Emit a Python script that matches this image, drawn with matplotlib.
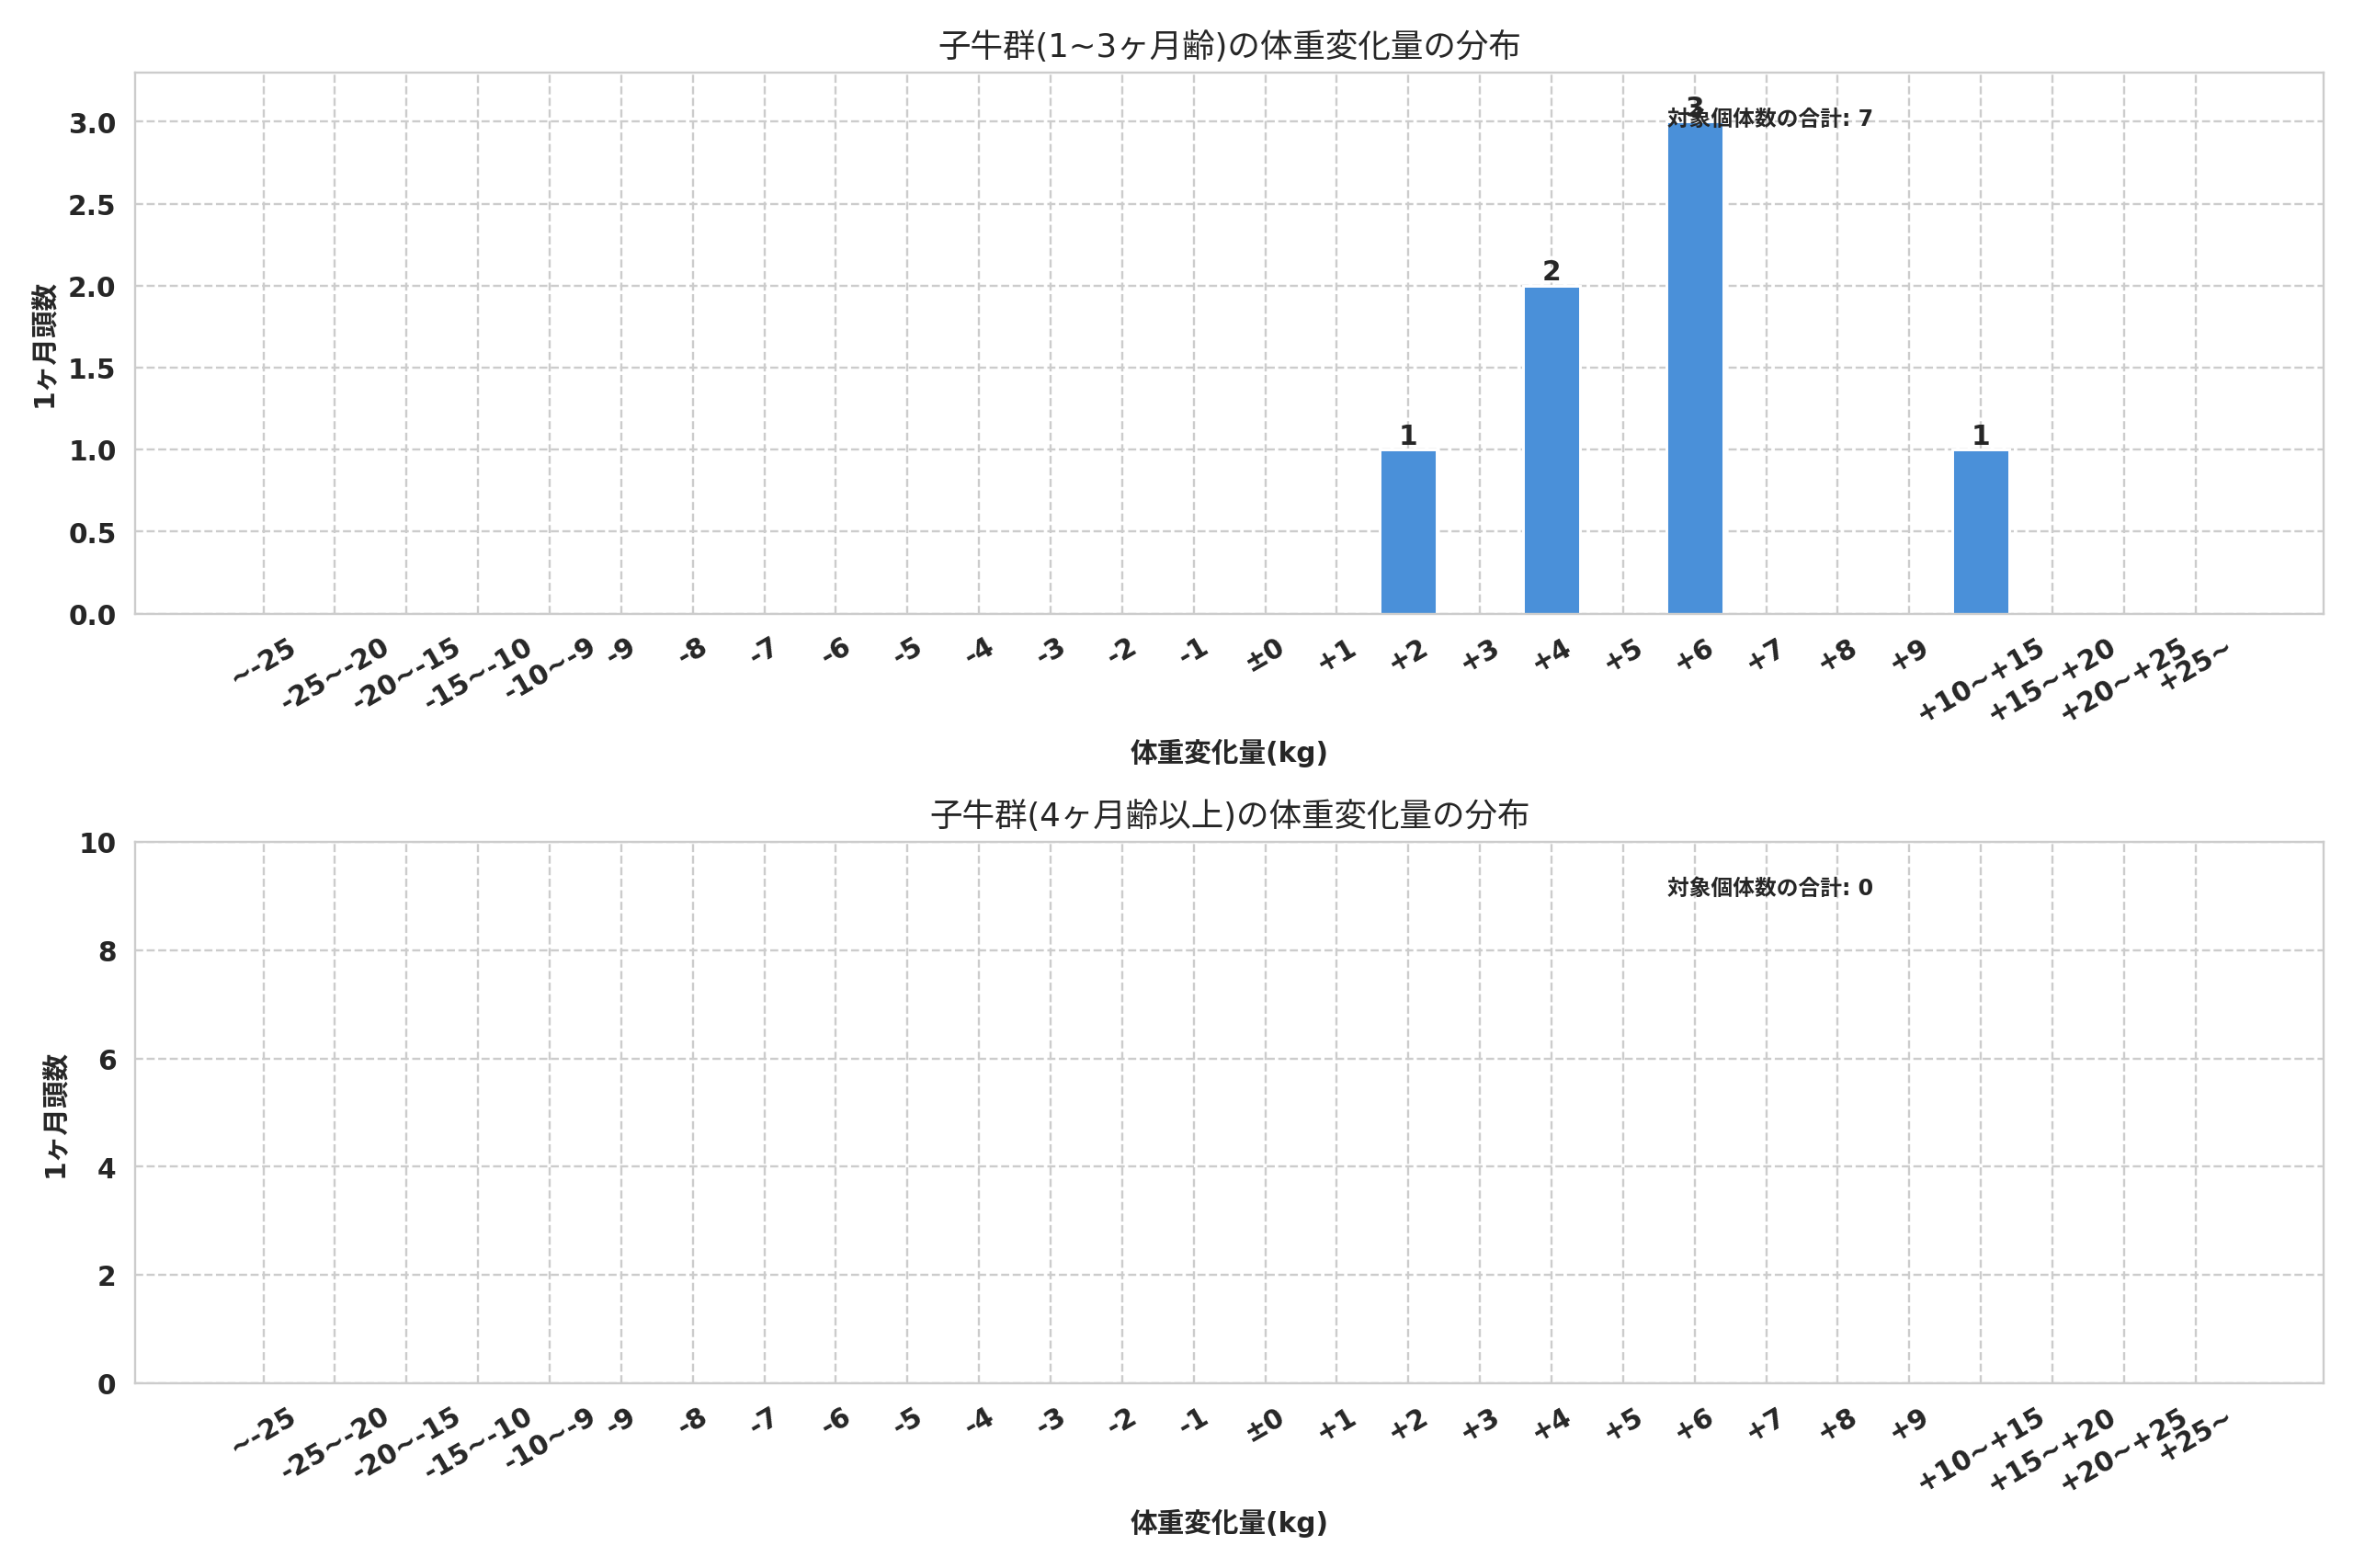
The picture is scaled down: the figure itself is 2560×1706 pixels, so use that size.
import matplotlib
matplotlib.use("Agg")
import matplotlib.pyplot as plt
import seaborn as sns
import numpy as np

sns.set_style("whitegrid", {"grid.linestyle": "--"})
plt.rcParams['font.family'] = ['DejaVu Sans', 'Noto Sans CJK JP']

categories = ["~-25", "-25~-20", "-20~-15", "-15~-10", "-10~-9",
              "-9", "-8", "-7", "-6", "-5", "-4", "-3", "-2", "-1", "±0",
              "+1", "+2", "+3", "+4", "+5", "+6", "+7", "+8", "+9",
              "+10~+15", "+15~+20", "+20~+25", "+25~"]

counts_young = [0, 0, 0, 0, 0,
                0, 0, 0, 0, 0, 0, 0, 0, 0, 0,
                0, 1, 0, 2, 0, 3, 0, 0, 0,
                1, 0, 0, 0]
counts_old = [0] * len(categories)

titles = ["子牛群(1~3ヶ月齢)の体重変化量の分布",
          "子牛群(4ヶ月齢以上)の体重変化量の分布"]
xlabel = "体重変化量(kg)"
ylabel = "1ヶ月頭数"
total_label = "対象個体数の合計"

bar_color = "#4A90D9"

fig, axes = plt.subplots(2, 1, figsize=(12, 8))
x = np.arange(len(categories))

for ax, counts, title in zip(axes, [counts_young, counts_old], titles):
    bars = ax.bar(x, counts, width=0.8, color=bar_color)
    for b, v in zip(bars, counts):
        if v > 0:
            ax.text(b.get_x() + b.get_width() / 2, v, f"{v}", ha="center",
                    va="bottom", fontsize=10, fontweight="bold")
    mx = max(counts)
    ax.set_ylim(0, mx * 1.1 if mx > 0 else 10)
    ax.set_xticks(x)
    ax.set_xticklabels(categories, rotation=30, fontsize=10, fontweight="bold")
    for lab in ax.get_yticklabels():
        lab.set_fontsize(10)
        lab.set_fontweight("bold")
    ax.set_title(title, fontsize=12)
    ax.set_xlabel(xlabel, fontsize=10, fontweight="bold")
    ax.set_ylabel(ylabel, fontsize=10, fontweight="bold")
    ax.text(0.7, 0.915, f"{total_label}: {sum(counts)}", transform=ax.transAxes,
            ha="left", va="center", fontsize=8, fontweight="bold")
    ax.grid(True, linestyle="--", color="#cccccc")

plt.tight_layout()
fig.savefig("out.png", dpi=2560 / 12)
